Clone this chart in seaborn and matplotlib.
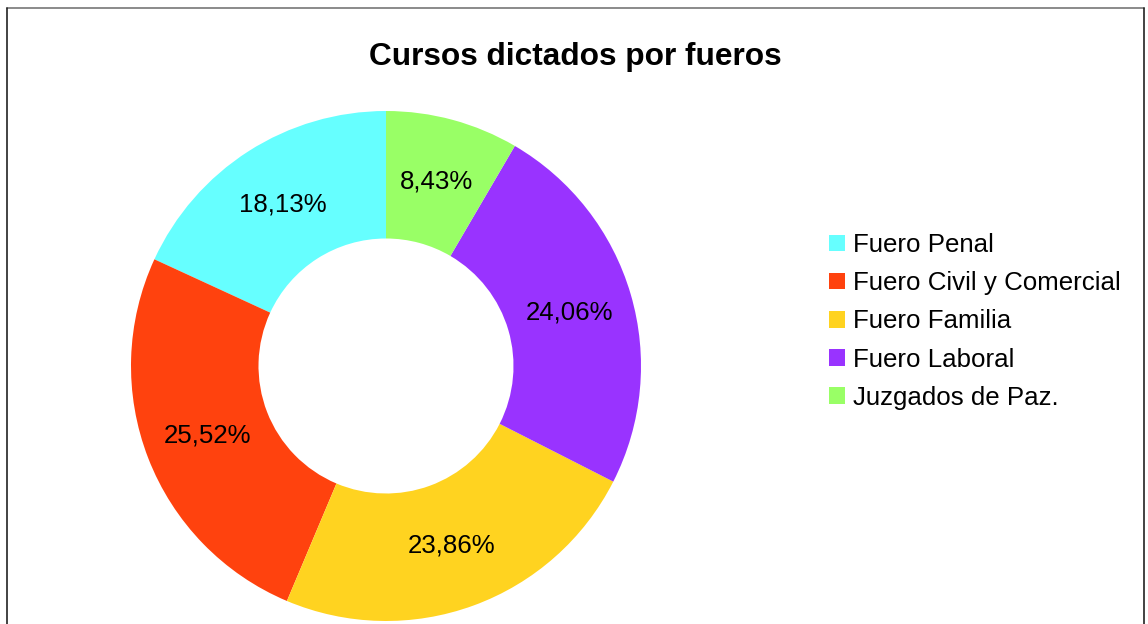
import matplotlib
matplotlib.use("Agg")
import matplotlib.pyplot as plt
from matplotlib.lines import Line2D
import seaborn as sns

# Course share by court jurisdiction (percent)
categories = ["Fuero Penal", "Fuero Civil y Comercial", "Fuero Familia",
              "Fuero Laboral", "Juzgados de Paz."]
shares = [18.13, 25.52, 23.86, 24.06, 8.43]
colors = ["#66ffff", "#ff420e", "#ffd320", "#9933ff", "#99ff66"]
title = "Cursos dictados por fueros"

sns.set_theme(style="white")
plt.rcParams["font.family"] = ["Liberation Sans", "DejaVu Sans"]
plt.rcParams["text.color"] = "black"

W, H = 1148, 624
fig = plt.figure(figsize=(W / 100, H / 100), dpi=100)
fig.patch.set_facecolor("white")

# Donut axes: centre (386, 366) px, radius 255 px
cx, cy, r = 386, 366, 255
ax = fig.add_axes([(cx - r) / W, (H - cy - r) / H, 2 * r / W, 2 * r / H])
ax.set_axis_off()

palette = sns.color_palette(colors)
wedges, texts, autotexts = ax.pie(
    shares,
    colors=palette,
    startangle=90,
    counterclock=True,
    radius=1.0,
    wedgeprops=dict(width=0.5, linewidth=0),
    autopct=lambda p: f"{p:.2f}".replace(".", ",") + "%",
    pctdistance=0.75,
    textprops=dict(fontsize=18.6, color="black"),
)
ax.set_xlim(-1, 1)
ax.set_ylim(-1, 1)
ax.set_aspect("auto")

fig.text(575 / W, 1 - 57 / H, title, ha="center", va="center",
         fontsize=22.8, fontweight="bold", color="black")

leg = fig.legend(
    wedges, categories,
    loc="upper left",
    bbox_to_anchor=(829 / W, 1 - 233 / H),
    frameon=False,
    fontsize=18.6,
    handlelength=0.62,
    handleheight=0.62,
    handletextpad=0.3,
    labelspacing=0.55,
    borderpad=0,
    borderaxespad=0,
)
for t in leg.get_texts():
    t.set_color("black")

# Outer frame (bottom edge lies beyond the canvas)
fig.add_artist(Line2D([7 / W, 1144 / W], [1 - 8 / H, 1 - 8 / H],
                      transform=fig.transFigure, color="#777777", lw=1.2))
fig.add_artist(Line2D([7 / W, 7 / W], [0, 1 - 8 / H],
                      transform=fig.transFigure, color="#222222", lw=1.2))
fig.add_artist(Line2D([1144 / W, 1144 / W], [0, 1 - 8 / H],
                      transform=fig.transFigure, color="#222222", lw=1.2))

fig.savefig("out.png", dpi=100, facecolor="white")
